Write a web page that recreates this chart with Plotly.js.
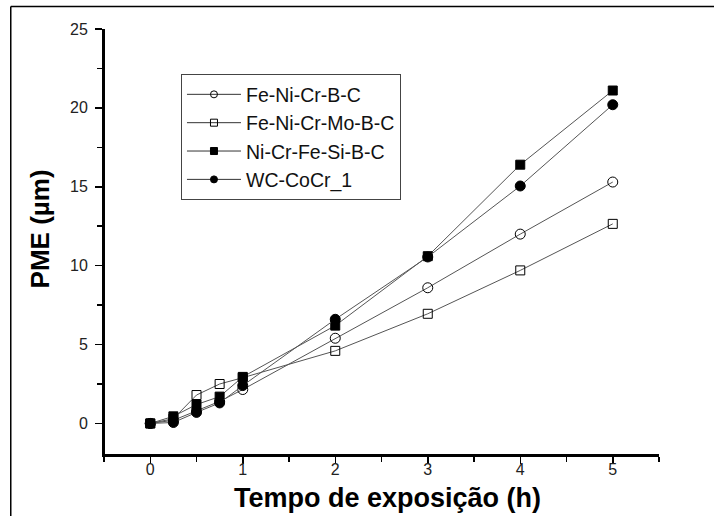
<!DOCTYPE html>
<html>
<head>
<meta charset="utf-8">
<script src="https://cdn.plot.ly/plotly-3.0.1.min.js"></script>
<style>html,body{margin:0;padding:0;background:#fff;}#plot{width:714px;height:516px;}</style>
</head>
<body>
<div id="plot"></div>
<script>
const time = [0, 0.25, 0.5, 0.75, 1, 2, 3, 4, 5];
const seriesNames = ["Fe-Ni-Cr-B-C", "Fe-Ni-Cr-Mo-B-C", "Ni-Cr-Fe-Si-B-C", "WC-CoCr_1"];
const feNiCrBC   = [0, 0.2, 0.8, 1.4, 2.15, 5.4, 8.6, 12.0, 15.3];
const feNiCrMoBC = [0, 0.3, 1.8, 2.5, 2.9, 4.6, 6.95, 9.7, 12.65];
const niCrFeSiBC = [0, 0.45, 1.2, 1.7, 2.95, 6.2, 10.6, 16.4, 21.1];
const wcCoCr1    = [0, 0.06, 0.7, 1.3, 2.4, 6.6, 10.55, 15.05, 20.2];
const xTickVals = [0, 1, 2, 3, 4, 5];
const yTickVals = [0, 5, 10, 15, 20, 25];
const yTitle = "PME (µm)";
const xTitle = "Tempo de exposição (h)";

const values = [feNiCrBC, feNiCrMoBC, niCrFeSiBC, wcCoCr1];
const symbols = ["circle-open", "square-open", "square", "circle"];
const sizes = [10, 9, 9, 10];
const legendSizes = [7, 7, 7, 7];

const traces = [];
values.forEach((v, i) => {
  traces.push({
    x: time, y: v, name: seriesNames[i], type: "scatter", mode: "lines+markers", showlegend: false,
    line: {color: "#555", width: 1},
    marker: {symbol: symbols[i], size: sizes[i], color: "#000", line: {color: "#000", width: 1}}
  });
});
values.forEach((v, i) => {
  traces.push({
    x: [null], y: [null], name: seriesNames[i], type: "scatter", mode: "lines+markers", showlegend: true,
    line: {color: "#333", width: 1},
    marker: {symbol: symbols[i], size: legendSizes[i], color: "#000", line: {color: "#000", width: 1}}
  });
});

const layout = {
  width: 714, height: 516,
  margin: {l: 104, r: 55, t: 29, b: 61},
  paper_bgcolor: "#fff", plot_bgcolor: "#fff",
  font: {family: "Liberation Sans, Arial, sans-serif", color: "#222"},
  showlegend: true,
  legend: {x: 0.1387, y: 0.894, xanchor: "left", yanchor: "top",
    bordercolor: "#444", borderwidth: 1, bgcolor: "#fff", itemwidth: 54,
    font: {size: 19.5, color: "#111"}, tracegroupgap: 0},
  xaxis: {range: [-0.5, 5.5], tickvals: xTickVals, ticktext: xTickVals.map(String),
    showgrid: false, zeroline: false, showline: true, linecolor: "#000", linewidth: 2,
    ticks: "outside", ticklen: 7, tickwidth: 1.5, tickcolor: "#000", ticklabelstandoff: -8,
    minor: {tickvals: [-0.5, 0.5, 1.5, 2.5, 3.5, 4.5, 5.5], ticks: "outside", ticklen: 5, tickwidth: 1.5, tickcolor: "#000", showgrid: false},
    tickfont: {size: 16, color: "#222"}},
  yaxis: {range: [-2, 25], tickvals: yTickVals, ticktext: yTickVals.map(String),
    showgrid: false, zeroline: false, showline: true, linecolor: "#000", linewidth: 2,
    ticks: "outside", ticklen: 7, tickwidth: 1.5, tickcolor: "#000", ticklabelstandoff: 4,
    minor: {tickvals: [2.5, 7.5, 12.5, 17.5, 22.5], ticks: "outside", ticklen: 5, tickwidth: 1.5, tickcolor: "#000", showgrid: false},
    tickfont: {size: 16, color: "#222"}},
  annotations: [
    {text: yTitle, xref: "paper", yref: "paper", x: -0.115, y: 0.53, xanchor: "center", yanchor: "middle",
     textangle: -90, showarrow: false, font: {size: 26, color: "#000", weight: "bold"}},
    {text: xTitle, xref: "paper", yref: "paper", x: 0.51, y: -0.101, xanchor: "center", yanchor: "middle",
     showarrow: false, font: {size: 27, color: "#000", weight: "bold"}}
  ],
  shapes: [
    {type: "line", xref: "paper", yref: "paper", x0: 0, x1: 1, y0: 0, y1: 0, line: {color: "#000", width: 2}},
    {type: "line", xref: "paper", yref: "paper", x0: 0, x1: 0, y0: 0, y1: 1, line: {color: "#000", width: 2}},
    {type: "line", xref: "paper", yref: "paper", x0: -0.168, x1: -0.168, y0: -0.15, y1: 1.053, line: {color: "#000", width: 1.5}},
    {type: "line", xref: "paper", yref: "paper", x0: -0.168, x1: 1.11, y0: 1.053, y1: 1.053, line: {color: "#000", width: 1.5}}
  ]
};

Plotly.newPlot("plot", traces, layout, {displayModeBar: false, staticPlot: true});
</script>
</body>
</html>
